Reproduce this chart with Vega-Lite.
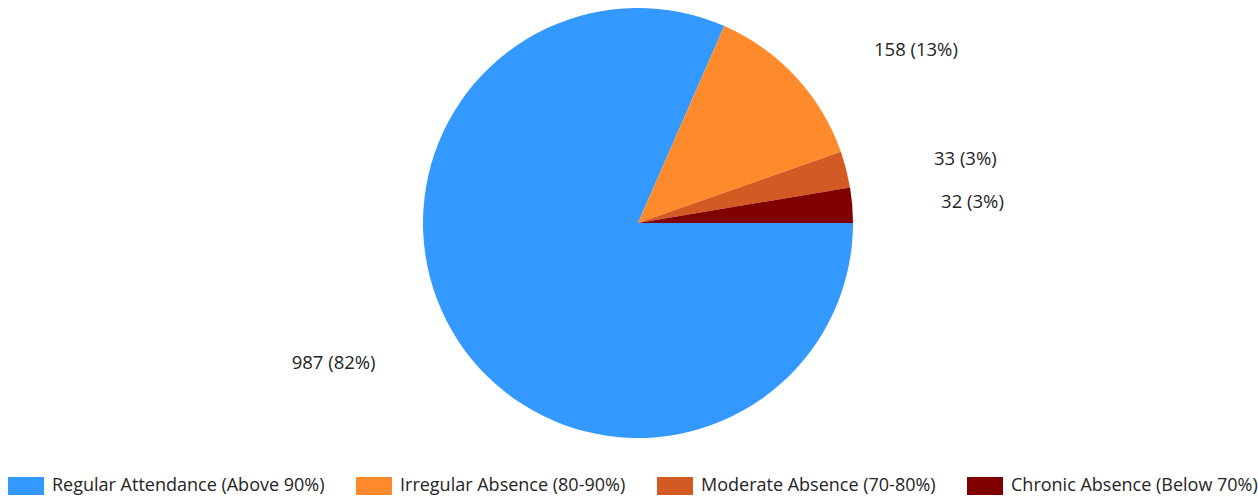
{
  "$schema": "https://vega.github.io/schema/vega-lite/v6.json",
  "width": 1240,
  "height": 446,
  "padding": {"left": 18, "top": 0, "right": 0, "bottom": 53},
  "autosize": {"type": "none"},
  "background": "white",
  "config": {"view": {"stroke": null}},
  "data": {
    "values": [
      {"category": "Regular Attendance (Above 90%)", "count": 987, "label": "987 (82%)"},
      {"category": "Irregular Absence (80-90%)", "count": 158, "label": "158 (13%)"},
      {"category": "Moderate Absence (70-80%)", "count": 33, "label": "33 (3%)"},
      {"category": "Chronic Absence (Below 70%)", "count": 32, "label": "32 (3%)"}
    ]
  },
  "encoding": {
    "theta": {"field": "count", "type": "quantitative", "stack": true, "scale": {"range": [1.5707963, 7.8539816]}},
    "order": {"field": "count", "sort": "descending"}
  },
  "layer": [
    {
      "mark": {"type": "arc", "outerRadius": 215},
      "encoding": {
        "color": {
          "field": "category",
          "type": "nominal",
          "sort": null,
          "scale": {
            "domain": ["Regular Attendance (Above 90%)", "Irregular Absence (80-90%)", "Moderate Absence (70-80%)", "Chronic Absence (Below 70%)"],
            "range": ["#3399ff", "#ff8a2b", "#d35a22", "#800000"]
          },
          "legend": {
            "orient": "none",
            "legendX": -10,
            "legendY": 468,
            "direction": "horizontal",
            "title": null,
            "symbolType": "M-1,-0.5H1V0.5H-1Z",
            "symbolSize": 1296,
            "symbolStrokeWidth": 0,
            "symbolOpacity": 1,
            "labelFontSize": 18,
            "labelFont": "Open Sans",
            "labelColor": "#252525",
            "labelOffset": 8,
            "columnPadding": 31,
            "labelLimit": 400
          }
        }
      }
    },
    {
      "mark": {"type": "text", "radius": 255, "align": "left", "baseline": "middle", "dx": 49, "fontSize": 18.5, "font": "Open Sans", "color": "#252525"},
      "encoding": {
        "text": {"condition": {"test": "datum.count < 500", "field": "label", "type": "nominal"}, "value": ""}
      }
    },
    {
      "mark": {"type": "text", "radius": 255, "align": "right", "baseline": "middle", "dx": -49, "fontSize": 18.5, "font": "Open Sans", "color": "#252525"},
      "encoding": {
        "text": {"condition": {"test": "datum.count >= 500", "field": "label", "type": "nominal"}, "value": ""}
      }
    }
  ]
}
